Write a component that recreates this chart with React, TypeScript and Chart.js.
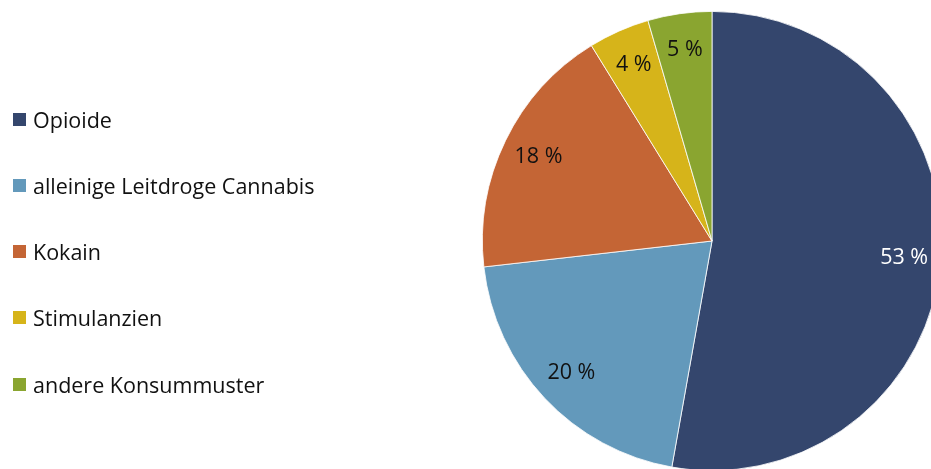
import React, { useEffect, useRef } from "react";
import { Chart, registerables } from "chart.js";

Chart.register(...registerables);

const categories = [
  "Opioide",
  "alleinige Leitdroge Cannabis",
  "Kokain",
  "Stimulanzien",
  "andere Konsummuster",
];
const shares = [52.8, 20.4, 18.0, 4.3, 4.5];
const sliceColors = ["#34466D", "#6399BB", "#C46535", "#D6B41A", "#8AA530"];
const labelColors = ["#FFFFFF", "#111111", "#111111", "#111111", "#111111"];

const FONT = "'Open Sans', 'Noto Sans', sans-serif";

const labelPlugin = {
  id: "sliceLabels",
  afterDatasetsDraw(chart: any) {
    const ctx = chart.ctx;
    const meta = chart.getDatasetMeta(0);
    const data = chart.data.datasets[0].data as number[];
    ctx.save();
    ctx.font = `21.5px ${FONT}`;
    ctx.textAlign = "center";
    ctx.textBaseline = "middle";
    meta.data.forEach((arc: any, i: number) => {
      const { x, y, startAngle, endAngle, outerRadius } = arc.getProps(
        ["x", "y", "startAngle", "endAngle", "outerRadius"],
        true
      );
      const mid = (startAngle + endAngle) / 2;
      const r = outerRadius * 0.84;
      ctx.fillStyle = labelColors[i];
      ctx.fillText(
        `${Math.round(data[i])} %`,
        x + Math.cos(mid) * r,
        y + Math.sin(mid) * r
      );
    });
    ctx.restore();
  },
};

export default function App() {
  const ref = useRef<HTMLCanvasElement | null>(null);

  useEffect(() => {
    if (!ref.current) return;
    const chart = new Chart(ref.current, {
      type: "pie",
      data: {
        labels: categories,
        datasets: [
          {
            data: shares,
            backgroundColor: sliceColors,
            borderColor: "#FFFFFF",
            borderWidth: 0.8,
          },
        ],
      },
      options: {
        responsive: false,
        maintainAspectRatio: false,
        animation: false,
        layout: { padding: { left: 482, top: 11, right: 8, bottom: 9 } },
        plugins: {
          legend: { display: false },
          tooltip: { enabled: false },
        },
      },
      plugins: [labelPlugin],
    });
    return () => chart.destroy();
  }, []);

  return (
    <div
      style={{
        position: "absolute",
        left: 0,
        top: 0,
        width: 931,
        height: 469,
        overflow: "hidden",
        background: "#fff",
      }}
    >
      <canvas
        ref={ref}
        width={950}
        height={480}
        style={{ position: "absolute", left: 0, top: 0, width: 950, height: 480 }}
      />
      {categories.map((c, i) => (
        <div
          key={c}
          style={{
            position: "absolute",
            left: 13,
            top: 120 + i * 66.3 - 16,
            height: 30,
            display: "flex",
            alignItems: "center",
            fontFamily: FONT,
            fontSize: 21.5,
            color: "#111",
            whiteSpace: "nowrap",
          }}
        >
          <span
            style={{
              display: "inline-block",
              width: 13,
              height: 13,
              background: sliceColors[i],
              marginRight: 7,
            }}
          />
          <span>{c}</span>
        </div>
      ))}
    </div>
  );
}
